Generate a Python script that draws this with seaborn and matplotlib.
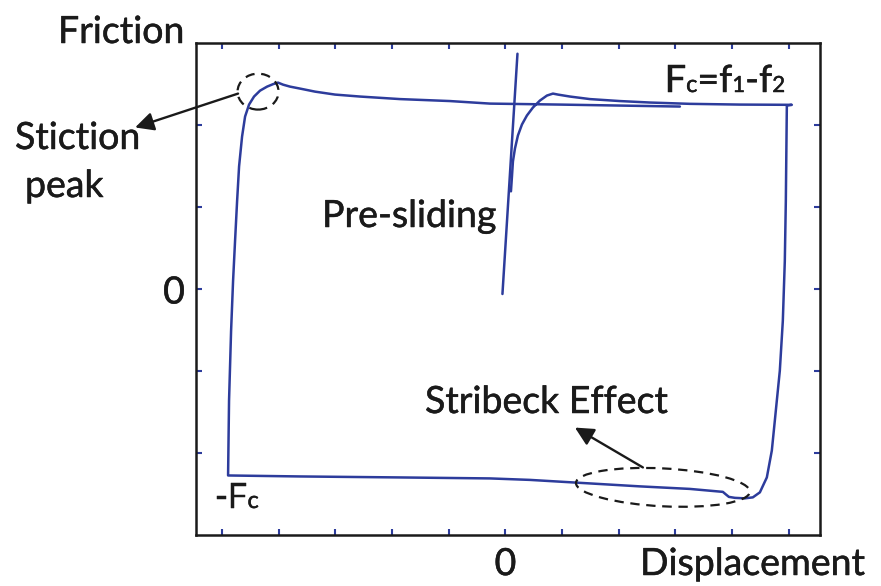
import matplotlib
matplotlib.use("Agg")
import matplotlib.pyplot as plt
import matplotlib.patheffects as pe
import pandas as pd
import seaborn as sns
from matplotlib.patches import Ellipse
from matplotlib.transforms import IdentityTransform

# Friction trajectory: pre-sliding rise, sliding right at +Fc, reversal,
# Stribeck dip, sliding left at -Fc, reversal with stiction peak.
traj_x = [0.097, 0.115, 0.132, 0.168, 0.220, 0.291, 0.379, 0.485, 0.608, 0.732,
          0.838, 0.926, 1.138, 1.490, 2.019, 2.549, 3.254, 4.136, 5.053,
          4.965, 4.947, 4.929, 4.894, 4.841, 4.788, 4.753, 4.700, 4.612, 4.489,
          4.365, 4.224, 4.048, 3.942, 3.889, 3.836,
          3.254, 2.372, 1.490, 0.432, -0.273, -1.861, -3.624, -4.894,
          -4.877, -4.841, -4.806, -4.771, -4.735, -4.700, -4.647, -4.594, -4.524,
          -4.436, -4.330, -4.206, -4.101, -4.013,
          -3.924, -3.801, -3.624, -3.360, -3.007, -2.566, -1.861, -0.979, -0.273,
          0.961, 2.019, 3.078]
traj_y = [1.191, 1.374, 1.556, 1.714, 1.872, 2.006, 2.116, 2.213, 2.298, 2.359,
          2.383, 2.371, 2.347, 2.316, 2.292, 2.274, 2.258, 2.249, 2.246,
          2.237, 1.070, 0.340, -0.389, -0.997, -1.362, -1.605, -1.970, -2.298, -2.480,
          -2.541, -2.553, -2.547, -2.535, -2.505, -2.474,
          -2.438, -2.407, -2.371, -2.328, -2.310, -2.298, -2.286, -2.274,
          -1.362, -0.511, 0.097, 0.584, 1.070, 1.495, 1.860, 2.103, 2.249,
          2.347, 2.419, 2.468, 2.498, 2.517,
          2.492, 2.468, 2.444, 2.407, 2.371, 2.347, 2.316, 2.292, 2.261,
          2.249, 2.237, 2.225]

# Linear pre-sliding stiffness line
stiff_x = [-0.053, 0.212]
stiff_y = [-0.061, 2.869]

x_ticks = [-5, -4, -3, -2, -1, 0, 1, 2, 3, 4, 5]
y_ticks = [-2, -1, 0, 1, 2]
x_tick_labels = ["0" if v == 0 else "" for v in x_ticks]
y_tick_labels = ["0" if v == 0 else "" for v in y_ticks]

BLUE = "#2d3c9c"
INK = "#1a1a1a"
FS = 27
HEAVY = [pe.withStroke(linewidth=0.35, foreground=INK)]

sns.set_theme(style="white")
plt.rcParams["font.family"] = ["Lato", "DejaVu Sans"]

fig = plt.figure(figsize=(8.81, 5.86), dpi=100)
ax = fig.add_axes([196 / 881, 1 - 535 / 586, 624 / 881, 492 / 586])

traj = pd.DataFrame({"x": traj_x, "y": traj_y})
stiff = pd.DataFrame({"x": stiff_x, "y": stiff_y})
sns.lineplot(data=traj, x="x", y="y", sort=False, estimator=None,
             color=BLUE, lw=1.8, ax=ax)
sns.lineplot(data=stiff, x="x", y="y", sort=False, estimator=None,
             color=BLUE, lw=1.8, ax=ax)

ax.set_xlim(-5.46, 5.55)
ax.set_ylim(-3.0, 3.0)
ax.set_xticks(x_ticks)
ax.set_xticklabels(x_tick_labels)
ax.set_yticks(y_ticks)
ax.set_yticklabels(y_tick_labels)
ax.set_xlabel("")
ax.set_ylabel("")
ax.tick_params(direction="in", length=4.5, width=1.5, color=BLUE,
               top=True, right=True, bottom=True, left=True,
               labelsize=FS, labelcolor=INK, pad=8)
for lab in ax.get_xticklabels() + ax.get_yticklabels():
    lab.set_path_effects(HEAVY)
for sp in ax.spines.values():
    sp.set_color(INK)
    sp.set_linewidth(1.8)

# Dashed ellipses marking stiction peak and Stribeck region
dash = (0, (4.2, 3.0))
ax.add_patch(Ellipse((-4.365, 2.407), 0.723, 0.438, fill=False, ls=dash,
                     lw=1.6, ec=INK, zorder=3))
ax.add_patch(Ellipse((2.778, -2.419), 3.069, 0.462, angle=-2, fill=False,
                     ls=dash, lw=1.6, ec=INK, zorder=3))

arrow = dict(arrowstyle="-|>", color=INK, lw=1.7, mutation_scale=28,
             shrinkA=0, shrinkB=0)
ax.annotate("", xy=(-6.534, 1.970), xytext=(-4.718, 2.383), arrowprops=arrow,
            annotation_clip=False)
ax.annotate("", xy=(1.226, -1.690), xytext=(2.425, -2.176), arrowprops=arrow,
            annotation_clip=False)

renderer = fig.canvas.get_renderer()


def runs(px, py, parts):
    x = px
    y = 586 - py
    for s, size in parts:
        t = fig.text(x, y, s, fontsize=size, transform=IdentityTransform(),
                     va="baseline", ha="left", color=INK, path_effects=HEAVY)
        x = t.get_window_extent(renderer).x1


runs(58, 43, [("Friction", FS)])
runs(15, 149, [("Stiction", FS)])
runs(25, 197, [("peak", FS)])
runs(322, 227, [("Pre-sliding", FS)])
runs(425, 413, [("Stribeck Effect", FS)])
runs(640, 575, [("Displacement", FS)])
runs(665, 92, [("F", FS), ("c", 17), ("=f", FS), ("1", 16), ("-f", FS), ("2", 16)])
runs(215, 508, [("-F", FS - 2), ("c", 17)])

fig.savefig("out.png", dpi=100)
